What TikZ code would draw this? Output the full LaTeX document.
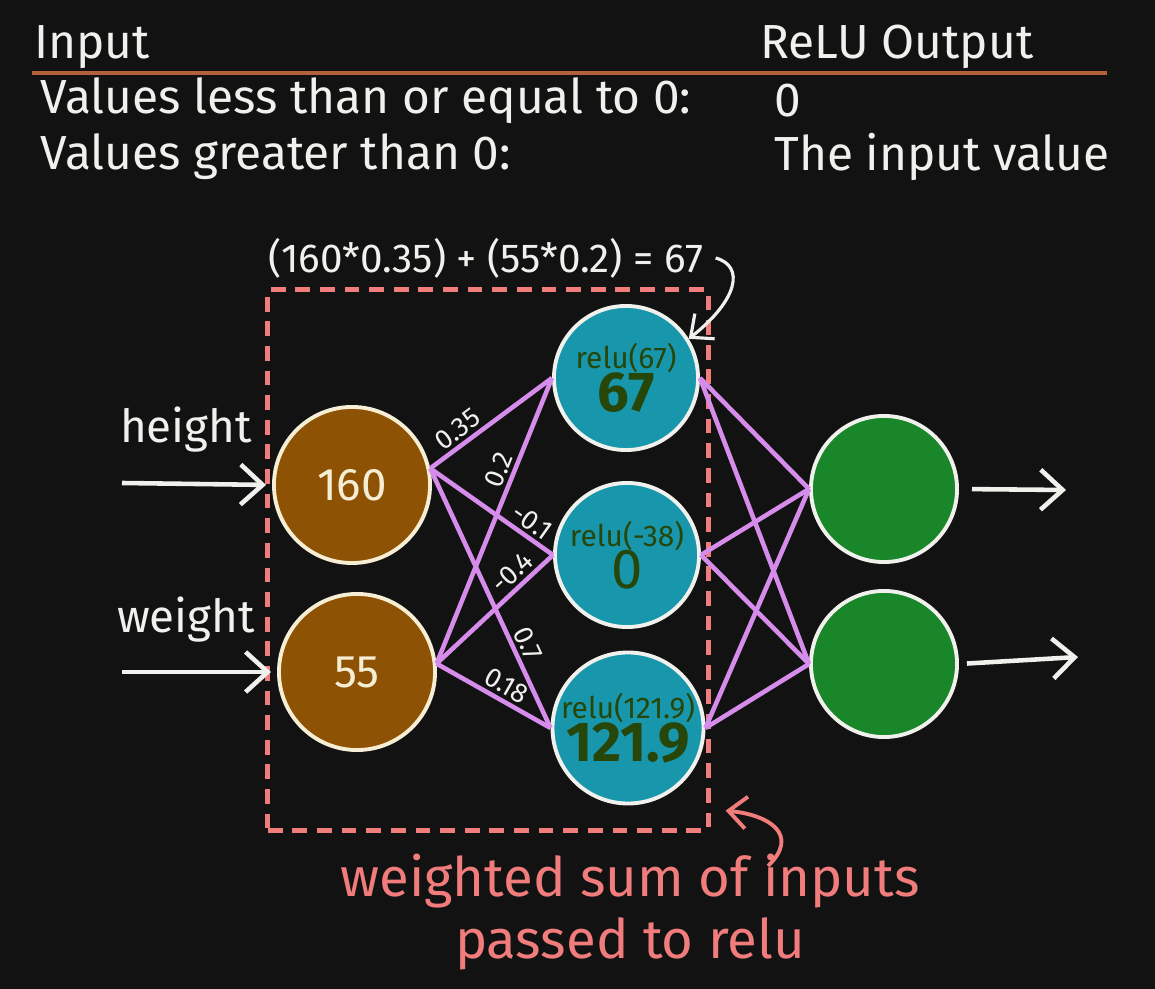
\documentclass[tikz,border=0pt]{standalone}
\usepackage{fontspec}
\setmainfont{Fira Sans}
\usepackage{xcolor}
\usepackage{tikz}
\usetikzlibrary{arrows.meta,positioning,calc}
\definecolor{boardbg}{RGB}{18, 18, 18}
\definecolor{chalk}{RGB}{240, 240, 236}
\definecolor{creamline}{RGB}{246, 238, 212}
\definecolor{rulebrown}{RGB}{178, 96, 58}
\definecolor{inbrown}{RGB}{142, 82, 4}
\definecolor{hidteal}{RGB}{24, 150, 172}
\definecolor{outgreen}{RGB}{26, 134, 42}
\definecolor{linkviolet}{RGB}{214, 140, 234}
\definecolor{salmon}{RGB}{240, 124, 124}
\definecolor{reluink}{RGB}{38, 70, 10}

\begin{document}
\begin{tikzpicture}[x=0.01cm, y=-0.01cm,
    every node/.style={text=chalk},
    innode/.style={circle, draw=creamline, fill=inbrown, line width=1.1pt, minimum size=1.56cm, inner sep=0pt, text=creamline, font=\fontsize{13}{15}\selectfont},
    hidnode/.style={circle, draw=chalk, fill=hidteal, line width=1.1pt, minimum size=1.44cm, inner sep=0pt, text=reluink, align=center},
    outnode/.style={circle, draw=chalk, fill=outgreen, line width=1.1pt, minimum size=1.46cm, inner sep=0pt},
    link/.style={draw=linkviolet, line width=1.3pt},
    wlabel/.style={sloped, above, inner sep=0.6pt, outer sep=1pt, font=\fontsize{7.8}{8}\selectfont},
    flow/.style={draw=chalk, line width=1.3pt, -{Straight Barb[length=2.2mm, width=4mm]}},
    note/.style={draw=chalk, line width=0.9pt, -{Straight Barb[length=1.8mm, width=3.2mm]}},
    headtext/.style={anchor=west, font=\fontsize{13.6}{15}\selectfont}]
    % Board
    \fill[boardbg] (0,0) rectangle (1155,989);

    % ReLU table
    \node[headtext] (hin) at (22,47) {Input};
    \node[headtext] (hout) at (748,47) {ReLU Output};
    \draw[rulebrown, line width=1.2pt] (32,73) -- (1107,73);
    \node[headtext] (rowa) at (28,101) {Values less than or equal to 0:};
    \node[headtext] (rowaval) at (762,101) {0};
    \node[headtext] (rowb) at (28,157) {Values greater than 0:};
    \node[headtext] (rowbval) at (762,157) {The input value};

    % Dashed frame round the relu layer
    \node[draw=salmon, dash pattern=on 4.2pt off 2.8pt, line width=1.4pt, minimum width=4.4cm, minimum height=5.4cm] (relubox) at (488,560) {};

    % Input layer
    \node[innode] (in1) at (352,485) {160};
    \node[innode] (in2) at (357,672) {55};
    \node[font=\fontsize{13}{15}\selectfont] (hlab) at (186,430) {height};
    \node[font=\fontsize{13}{15}\selectfont] (wlab) at (186,620) {weight};
    \coordinate (hsrc) at (122,483);
    \coordinate (wsrc) at (122,672);
    \draw[flow, shorten >=0.06cm] (hsrc) -- (in1.west);
    \draw[flow, shorten >=0.06cm] (wsrc) -- (in2.west);

    % Hidden layer
    \node[hidnode] (hid1) at (626,378) {{\fontsize{8.5}{9}\selectfont relu(67)}\\[-1pt]{\fontsize{16}{17}\selectfont\bfseries 67}};
    \node[hidnode] (hid2) at (627,555) {{\fontsize{8.5}{9}\selectfont relu(-38)}\\[-1pt]{\fontsize{16}{17}\selectfont 0}};
    \node[hidnode] (hid3) at (628,728) {{\fontsize{8.5}{9}\selectfont relu(121.9)}\\[-1pt]{\fontsize{16}{17}\selectfont\bfseries 121.9}};

    % Output layer
    \node[outnode] (out1) at (884,489) {};
    \node[outnode] (out2) at (884,664) {};
    \coordinate (o1end) at (1066,490);
    \coordinate (o2end) at (1078,657);
    \draw[flow, shorten <=0.13cm] (out1.east) -- (o1end);
    \draw[flow, shorten <=0.08cm] (out2.east) -- (o2end);

    % Weights into the relu layer
    \draw[link] (in1.12) -- (hid1.west) node[wlabel, pos=0.3] {0.35};
    \draw[link] (in1.12) -- (hid2.west) node[wlabel, pos=0.76] {-0.1};
    \draw[link] (in1.12) -- (hid3.west) node[wlabel, pos=0.7] {0.7};
    \draw[link] (in2.6) -- (hid1.west) node[wlabel, pos=0.66] {0.2};
    \draw[link] (in2.6) -- (hid2.west) node[wlabel, pos=0.74] {-0.4};
    \draw[link] (in2.6) -- (hid3.west) node[wlabel, pos=0.55] {0.18};

    % Relu layer to outputs
    \foreach \h in {hid1,hid2,hid3}{
        \draw[link] (\h.east) -- (out1.west);
        \draw[link] (\h.east) -- (out2.west);
    }

    % Worked sum for the top unit
    \node[font=\fontsize{11.5}{13}\selectfont] (sumtext) at (486,258) {(160*0.35) + (55*0.2) = 67};
    \draw[note] (sumtext.east) .. controls (745,266) and (738,300) .. (hid1.32);

    % Caption
    \node[text=salmon, align=center, font=\fontsize{15.5}{17.6}\selectfont] (caption) at (630,912) {weighted sum of inputs\\passed to relu};
    \coordinate (captip) at (768,866);
    \draw[salmon, line width=1.1pt, -{Straight Barb[length=1.8mm, width=3.2mm]}] (captip) .. controls (800,835) and (770,815) .. ($(relubox.south east)+(15,-22)$);
\end{tikzpicture}
\end{document}
